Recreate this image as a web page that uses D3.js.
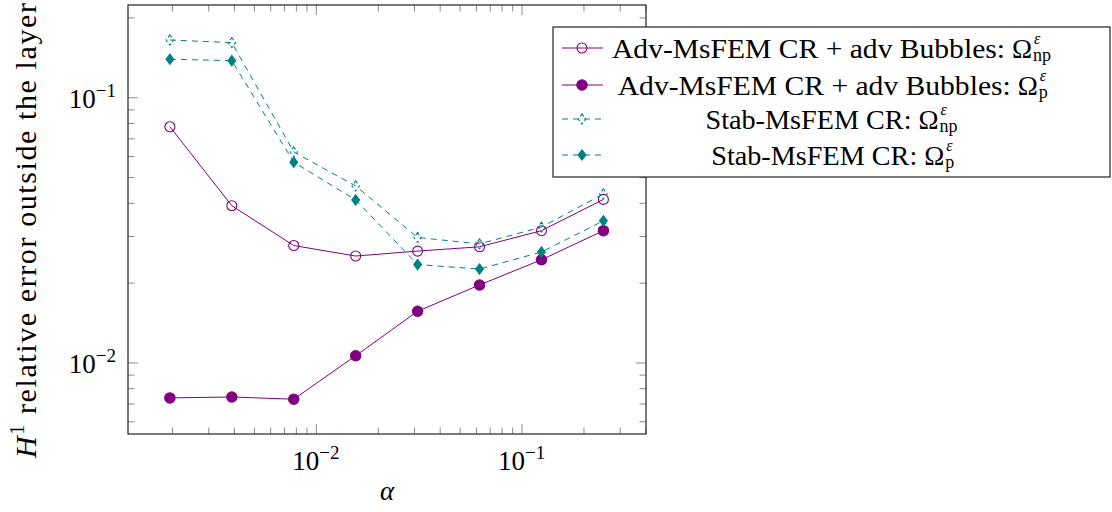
<!DOCTYPE html>
<html>
<head>
<meta charset="utf-8">
<script src="https://cdn.jsdelivr.net/npm/d3@7"></script>
<style>
  body { margin: 0; background: #fff; }
</style>
</head>
<body>
<div id="chart"></div>
<script>
// alpha values (x) and H1 relative errors
const alpha = [1/512, 1/256, 1/128, 1/64, 1/32, 1/16, 1/8, 1/4]
const advNp = [0.0774, 0.0390, 0.0276, 0.0252, 0.0263, 0.0273, 0.0314, 0.0412]
const advP = [0.00735, 0.00741, 0.00727, 0.0106, 0.0156, 0.0196, 0.0244, 0.0314]
const stabNp = [0.1644, 0.1607, 0.0622, 0.0463, 0.0296, 0.0280, 0.0324, 0.0432]
const stabP = [0.1391, 0.1374, 0.0569, 0.0410, 0.0234, 0.0225, 0.0261, 0.0342]

const legendNames = ['Adv-MsFEM CR + adv Bubbles:', 'Adv-MsFEM CR + adv Bubbles:',
  'Stab-MsFEM CR:', 'Stab-MsFEM CR:']
const legendSubs = ['np', 'p', 'np', 'p']
const xTickExp = [-2, -1]
const yTickExp = [-1, -2]

const purple = '#800080', teal = '#008080'
const series = [
  {values: advNp, color: purple, dash: null, mark: 'circle', fill: false},
  {values: advP, color: purple, dash: null, mark: 'circle', fill: true},
  {values: stabNp, color: teal, dash: '6,5', mark: 'diamond', fill: false},
  {values: stabP, color: teal, dash: '6,5', mark: 'diamond', fill: true}
]

const serif = '"Liberation Serif", "DejaVu Serif", serif'
const width = 1112, height = 512
const m = {left: 128, right: 646, top: 5, bottom: 434}

const svg = d3.select('#chart').append('svg')
  .attr('width', width)
  .attr('height', height)
  .attr('font-family', serif)

const x = d3.scaleLog().domain([0.001222, 0.4027]).range([m.left, m.right])
const y = d3.scaleLog().domain([0.005374, 0.2228]).range([m.bottom, m.top])

// minor tick positions k*10^e inside the domain
function minorTicks(domain) {
  const out = []
  for (let e = -4; e <= 1; e++) {
    for (let k = 2; k <= 9; k++) {
      const v = k * Math.pow(10, e)
      if (v >= domain[0] && v <= domain[1]) out.push(v)
    }
  }
  return out
}
const xMajor = xTickExp.map(e => Math.pow(10, e))
const yMajor = yTickExp.map(e => Math.pow(10, e))

const tickColor = '#8a8a8a'
function drawAxis(axis, transform, values, size) {
  const g = svg.append('g')
    .attr('transform', transform)
    .call(axis.tickValues(values).tickSize(size).tickFormat(''))
  g.select('.domain').remove()
  g.selectAll('line').attr('stroke', tickColor).attr('stroke-width', 1)
}
// ticks pointing inwards on all four sides
drawAxis(d3.axisBottom(x), `translate(0,${m.bottom})`, xMajor, -10)
drawAxis(d3.axisBottom(x), `translate(0,${m.bottom})`, minorTicks(x.domain()), -6.5)
drawAxis(d3.axisTop(x), `translate(0,${m.top})`, xMajor, -10)
drawAxis(d3.axisTop(x), `translate(0,${m.top})`, minorTicks(x.domain()), -6.5)
drawAxis(d3.axisLeft(y), `translate(${m.left},0)`, yMajor, -10)
drawAxis(d3.axisLeft(y), `translate(${m.left},0)`, minorTicks(y.domain()), -6.5)
drawAxis(d3.axisRight(y), `translate(${m.right},0)`, yMajor, -10)
drawAxis(d3.axisRight(y), `translate(${m.right},0)`, minorTicks(y.domain()), -6.5)

// tick labels 10^e
function powLabel(px, py, e, anchor) {
  const t = svg.append('text')
    .attr('x', px).attr('y', py)
    .attr('text-anchor', anchor)
    .attr('font-size', 27)
  t.append('tspan').text('10')
  t.append('tspan').attr('dy', -11).attr('font-size', 19).text('\u2212' + Math.abs(e))
}
xTickExp.forEach(e => powLabel(x(Math.pow(10, e)), 470, e, 'middle'))
yTickExp.forEach(e => powLabel(116, y(Math.pow(10, e)) + 11, e, 'end'))

// axis labels
svg.append('text')
  .attr('x', (m.left + m.right) / 2).attr('y', 500)
  .attr('text-anchor', 'middle')
  .attr('font-size', 27).attr('font-style', 'italic')
  .text('\u03b1')

const yl = svg.append('text')
  .attr('transform', `translate(36,458) rotate(-90)`)
  .attr('font-size', 30)
yl.append('tspan').attr('font-style', 'italic').text('H')
yl.append('tspan').attr('dy', -12).attr('font-size', 20).text('1')
yl.append('tspan').attr('dy', 12).text(' relative error outside the layer')
yl.attr('textLength', 455).attr('lengthAdjust', 'spacing')

// markers
function markPath(type, filled) {
  if (type === 'circle') {
    return d3.symbol().type(d3.symbolCircle).size(Math.PI * (filled ? 5.2 : 5) ** 2)()
  }
  const r = filled ? 5.2 : 5
  return `M0,${-r}L${0.75 * r},0L0,${r}L${-0.75 * r},0Z`
}

const line = d3.line().x(d => x(d[0])).y(d => y(d[1]))
const plot = svg.append('g')
series.forEach(s => {
  const pts = alpha.map((a, i) => [a, s.values[i]])
  plot.append('path')
    .attr('d', line(pts))
    .attr('fill', 'none')
    .attr('stroke', s.color)
    .attr('stroke-width', 1)
    .attr('stroke-dasharray', s.dash)
  plot.selectAll(null)
    .data(pts)
    .enter().append('path')
    .attr('transform', d => `translate(${x(d[0])},${y(d[1])})`)
    .attr('d', markPath(s.mark, s.fill))
    .attr('fill', s.fill ? s.color : 'none')
    .attr('stroke', s.color)
    .attr('stroke-width', 1.1)
    .attr('stroke-dasharray', s.fill ? null : (s.dash ? '3,2.5' : null))
})

// frame
svg.append('rect')
  .attr('x', m.left).attr('y', m.top)
  .attr('width', m.right - m.left).attr('height', m.bottom - m.top)
  .attr('fill', 'none')
  .attr('stroke', '#222')
  .attr('stroke-width', 1.2)

// legend
const lg = svg.append('g')
lg.append('rect')
  .attr('x', 553).attr('y', 27)
  .attr('width', 557).attr('height', 150)
  .attr('fill', '#fff')
  .attr('stroke', '#222')
  .attr('stroke-width', 1.2)
const rowY = [48, 85, 119, 155]
const nameW = [393, 393, 206, 206]
series.forEach((s, i) => {
  const ry = rowY[i]
  lg.append('line')
    .attr('x1', 562).attr('x2', 603)
    .attr('y1', ry).attr('y2', ry)
    .attr('stroke', s.color)
    .attr('stroke-width', 1)
    .attr('stroke-dasharray', s.dash)
  lg.append('path')
    .attr('transform', `translate(582,${ry})`)
    .attr('d', markPath(s.mark, s.fill))
    .attr('fill', s.fill ? s.color : 'none')
    .attr('stroke', s.color)
    .attr('stroke-width', 1.1)
    .attr('stroke-dasharray', s.fill ? null : (s.dash ? '3,2.5' : null))
  const sub = legendSubs[i]
  const subW = sub.length * 11.5
  const total = nameW[i] + 30 + subW
  const x0 = 835 - total / 2
  lg.append('text')
    .attr('x', x0).attr('y', ry + 10)
    .attr('font-size', 27)
    .attr('textLength', nameW[i]).attr('lengthAdjust', 'spacingAndGlyphs')
    .text(legendNames[i])
  lg.append('text')
    .attr('x', x0 + nameW[i] + 7).attr('y', ry + 10)
    .attr('font-size', 27)
    .text('\u03a9')
  lg.append('text')
    .attr('x', x0 + nameW[i] + 29).attr('y', ry - 4)
    .attr('font-size', 16).attr('font-style', 'italic')
    .text('\u03b5')
  lg.append('text')
    .attr('x', x0 + nameW[i] + 28).attr('y', ry + 13)
    .attr('font-size', 18)
    .text(sub)
})
</script>
</body>
</html>
